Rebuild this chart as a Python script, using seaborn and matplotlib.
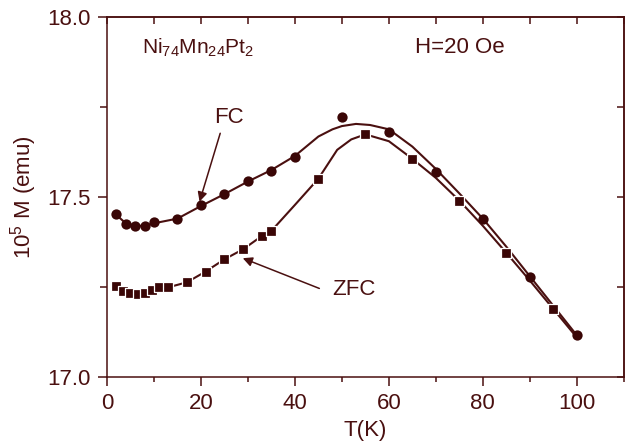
import numpy as np
import pandas as pd
import matplotlib
matplotlib.use('Agg')
import matplotlib.pyplot as plt
from matplotlib.ticker import MultipleLocator
import seaborn as sns

# measured points
fc_t = [2, 4, 6, 8, 10, 15, 20, 25, 30, 35, 40, 50, 60, 70, 80, 90, 100]
fc_m = [17.452, 17.425, 17.419, 17.419, 17.430, 17.438, 17.477, 17.508,
        17.544, 17.572, 17.611, 17.723, 17.681, 17.570, 17.438, 17.279, 17.116]

zfc_t = [2, 3.5, 5, 6.5, 8, 9.5, 11, 13, 17, 21, 25, 29, 33, 35, 45,
         55, 65, 75, 85, 95]
zfc_m = [17.254, 17.240, 17.234, 17.231, 17.232, 17.242, 17.249, 17.249,
         17.263, 17.293, 17.327, 17.355, 17.392, 17.406, 17.551,
         17.674, 17.606, 17.490, 17.345, 17.189]

# guide curves as drawn in the figure
fc_fit_t = [2, 4, 6, 8, 10, 15, 20, 25, 30, 35, 40, 45, 48, 50, 53, 56,
            60, 65, 70, 75, 80, 85, 90, 95, 100]
fc_fit_m = [17.450, 17.427, 17.420, 17.420, 17.427, 17.440, 17.475, 17.508,
            17.543, 17.575, 17.614, 17.668, 17.688, 17.697, 17.703, 17.700,
            17.688, 17.640, 17.578, 17.510, 17.440, 17.362, 17.280, 17.198,
            17.116]

zfc_fit_t = [2, 3.5, 5, 6.5, 8, 9.5, 11, 13, 17, 21, 25, 29, 33, 35, 40,
             45, 49, 52, 55, 60, 65, 70, 75, 80, 85, 90, 95, 100]
zfc_fit_m = [17.254, 17.240, 17.234, 17.231, 17.232, 17.242, 17.249, 17.249,
             17.263, 17.293, 17.327, 17.355, 17.392, 17.406, 17.478,
             17.551, 17.631, 17.660, 17.674, 17.655, 17.606, 17.553, 17.490,
             17.420, 17.345, 17.268, 17.189, 17.110]

sns.set_style('ticks')
plt.rcParams['font.family'] = ['Liberation Sans', 'DejaVu Sans']
plt.rcParams['mathtext.fontset'] = 'custom'
plt.rcParams['mathtext.rm'] = 'Liberation Sans'

ink = '#4a1010'
dot = '#3a0606'

fig = plt.figure(figsize=(6.25, 4.46), dpi=100)
ax = fig.add_axes([0.1712, 0.1547, 0.8268, 0.8072])

fc = pd.DataFrame({'T': fc_t, 'M': fc_m})
zfc = pd.DataFrame({'T': zfc_t, 'M': zfc_m})
fc_fit = pd.DataFrame({'T': fc_fit_t, 'M': fc_fit_m})
zfc_fit = pd.DataFrame({'T': zfc_fit_t, 'M': zfc_fit_m})

sns.lineplot(data=zfc_fit, x='T', y='M', ax=ax, color=ink, lw=1.5,
             estimator=None)
sns.lineplot(data=fc_fit, x='T', y='M', ax=ax, color=ink, lw=1.5,
             estimator=None)
sns.scatterplot(data=zfc, x='T', y='M', ax=ax, marker='s', s=48, color=dot,
                edgecolor='white', linewidth=0.9, zorder=3)
sns.scatterplot(data=fc, x='T', y='M', ax=ax, marker='o', s=55, color=dot,
                edgecolor=dot, linewidth=0, zorder=4)

ax.set_xlim(0, 110)
ax.set_ylim(17.0, 18.0)
ax.xaxis.set_major_locator(MultipleLocator(20))
ax.xaxis.set_minor_locator(MultipleLocator(10))
ax.yaxis.set_major_locator(MultipleLocator(0.5))
ax.yaxis.set_minor_locator(MultipleLocator(0.25))
ax.yaxis.set_major_formatter(matplotlib.ticker.FormatStrFormatter('%.1f'))

for s in ax.spines.values():
    s.set_color(ink)
    s.set_linewidth(1.1)
ax.tick_params(which='major', direction='out', length=6.5, width=1.1,
               colors=ink, labelsize=16, pad=5)
ax.tick_params(which='minor', direction='out', length=3.5, width=1.1,
               colors=ink)
ax.tick_params(axis='y', which='minor', length=5)

top = ax.secondary_xaxis('top')
top.xaxis.set_major_locator(MultipleLocator(10))
top.tick_params(direction='in', length=5, width=1.1, colors=ink, labeltop=False)
right = ax.secondary_yaxis('right')
right.yaxis.set_major_locator(MultipleLocator(0.25))
right.tick_params(direction='in', length=5, width=1.1, colors=ink,
                  labelright=False)
for sec in (top, right):
    for s in sec.spines.values():
        s.set_color(ink)
        s.set_linewidth(1.1)

ax.set_xlabel('T(K)', fontsize=16, color=ink, labelpad=4)
ax.set_ylabel('10$^5$ M (emu)', fontsize=16, color=ink, labelpad=6)

ax.text(7.5, 17.945, 'Ni$_{74}$Mn$_{24}$Pt$_2$', fontsize=15, color=ink,
        va='top')
ax.text(65.5, 17.945, 'H=20 Oe', fontsize=16, color=ink, va='top')
ax.text(26, 17.72, 'FC', fontsize=16, color=ink, ha='center', va='center')
ax.text(48, 17.242, 'ZFC', fontsize=16, color=ink, ha='left', va='center')

arrow = dict(arrowstyle='-|>', color=ink, lw=1.1, mutation_scale=14,
             shrinkA=0, shrinkB=0)
ax.annotate('', xy=(19.7, 17.487), xytext=(24.1, 17.677), arrowprops=arrow)
ax.annotate('', xy=(28.9, 17.330), xytext=(45.2, 17.246), arrowprops=arrow)

fig.savefig('out.png', dpi=100)
